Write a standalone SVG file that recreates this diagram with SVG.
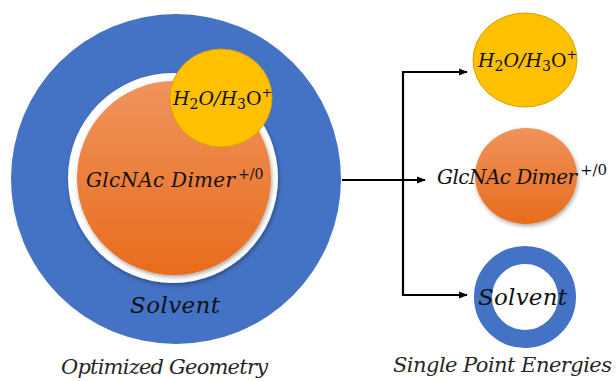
<svg xmlns="http://www.w3.org/2000/svg" width="616" height="381" viewBox="0 0 616 381">
<style>
.m{font-family:"DejaVu Serif","Liberation Serif",serif;font-style:italic;fill:#111}
.u{font-style:normal}
.cap{font-family:"DejaVu Serif","Liberation Serif",serif;font-style:italic;fill:#262626;font-size:21px}
.ln{fill:none;stroke:#000;stroke-width:2.2}
</style>
<defs>
<linearGradient id="og" x1="0" y1="0" x2="0" y2="1">
<stop offset="0" stop-color="#F0935C"/>
<stop offset="1" stop-color="#E86C1C"/>
</linearGradient>
<filter id="sh" x="-20%" y="-20%" width="140%" height="140%">
<feGaussianBlur in="SourceAlpha" stdDeviation="2"/>
<feOffset dx="1" dy="2"/>
<feComponentTransfer><feFuncA type="linear" slope="0.35"/></feComponentTransfer>
<feMerge><feMergeNode/><feMergeNode in="SourceGraphic"/></feMerge>
</filter>
<marker id="ah" viewBox="0 0 10 10" refX="9" refY="5" markerWidth="4" markerHeight="4" orient="auto" markerUnits="strokeWidth">
<path d="M0,1 L10,5 L0,9 z" fill="#000"/>
</marker>
</defs>
<g id="opt-solvent">
<circle cx="176" cy="179" r="165" fill="#4472C4"/>
<circle cx="173" cy="178" r="105" fill="#fff" filter="url(#sh)"/>
<text class="m" x="130" y="313" font-size="23" fill="#1a2340" textLength="90">Solvent</text>
</g>
<g id="opt-dimer">
<circle cx="174" cy="178" r="97" fill="url(#og)" filter="url(#sh)"/>
<text class="m" x="86" y="187" font-size="20" textLength="149">GlcNAc Dimer</text>
<text class="m u" x="238" y="179" font-size="14">+/0</text>
</g>
<g id="opt-water">
<ellipse cx="221" cy="98" rx="51" ry="49" fill="#FFC000" stroke="#D9A300" stroke-width="1"/>
<text class="m" x="173" y="105" font-size="19">H<tspan class="u" font-size="14" dy="4">2</tspan><tspan dy="-4">O/H</tspan><tspan class="u" font-size="14" dy="4">3</tspan><tspan class="u" dy="-4">O</tspan><tspan class="u" font-size="13" dy="-8">+</tspan></text>
</g>
<g id="connectors">
<line class="ln" x1="342" y1="180" x2="425" y2="180" marker-end="url(#ah)"/>
<polyline class="ln" points="467,72 403,72 403,295 467,295" marker-end="url(#ah)"/>
<line class="ln" x1="403" y1="72" x2="467" y2="72" marker-end="url(#ah)"/>
</g>
<g id="sp-water">
<ellipse cx="525" cy="60" rx="52" ry="47" fill="#FFC000" stroke="#D9A300" stroke-width="1"/>
<text class="m" x="478" y="67" font-size="19">H<tspan class="u" font-size="14" dy="4">2</tspan><tspan dy="-4">O/H</tspan><tspan class="u" font-size="14" dy="4">3</tspan><tspan class="u" dy="-4">O</tspan><tspan class="u" font-size="13" dy="-8">+</tspan></text>
</g>
<g id="sp-dimer">
<ellipse cx="526" cy="176" rx="51" ry="48" fill="url(#og)" filter="url(#sh)"/>
<text class="m" x="437" y="184" font-size="20" textLength="140">GlcNAc Dimer</text>
<text class="m u" x="580" y="175" font-size="15">+/0</text>
</g>
<g id="sp-solvent">
<circle cx="525" cy="297" r="42" fill="none" stroke="#4472C4" stroke-width="18"/>
<text class="m" x="478" y="305" font-size="23" textLength="89">Solvent</text>
</g>
<g id="captions">
<text class="cap" x="61" y="374" textLength="207">Optimized Geometry</text>
<text class="cap" x="393" y="372" textLength="219">Single Point Energies</text>
</g>
</svg>
